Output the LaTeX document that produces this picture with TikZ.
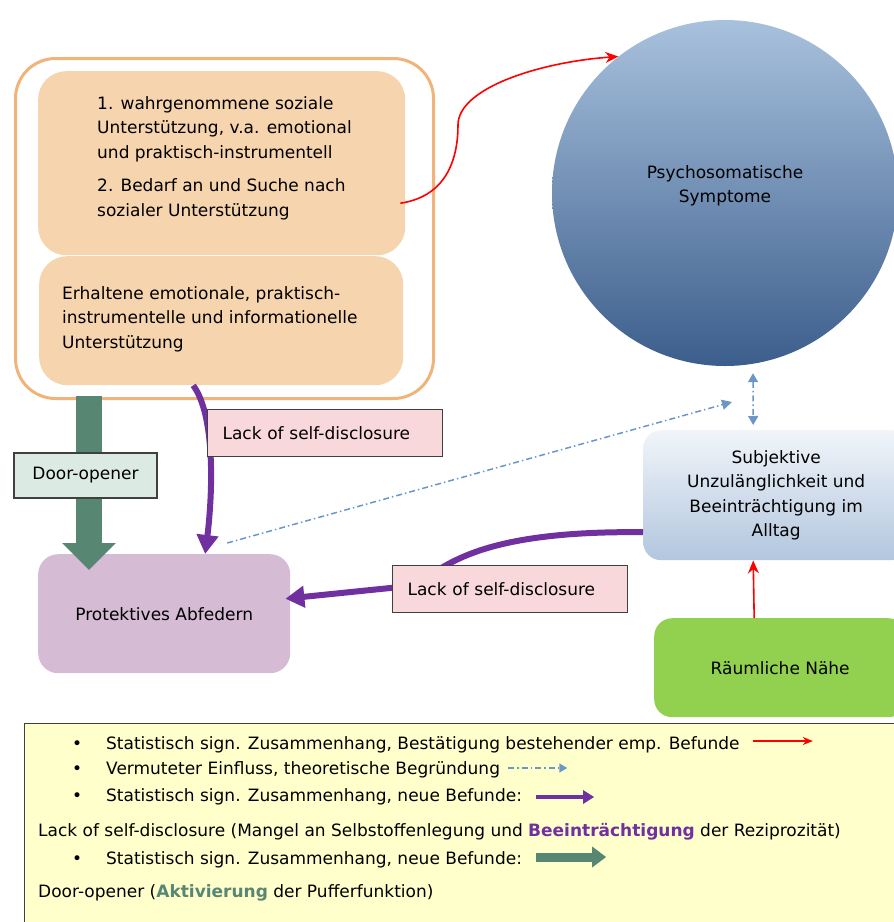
\documentclass[tikz,border=0pt]{standalone}
\usepackage{fontspec}
\setmainfont{DejaVu Sans}
\usepackage{tikz}
\usetikzlibrary{arrows.meta, positioning, shapes.geometric}

\definecolor{peach}{HTML}{F6D4AE}
\definecolor{frameorange}{HTML}{F0B47A}
\definecolor{circletop}{HTML}{A8C1DD}
\definecolor{circlebottom}{HTML}{3C5E8C}
\definecolor{boxtop}{HTML}{F1F5FA}
\definecolor{boxbottom}{HTML}{B2C6DE}
\definecolor{leafgreen}{HTML}{92D050}
\definecolor{lilac}{HTML}{D5BBD3}
\definecolor{rosy}{HTML}{F8D8DA}
\definecolor{mint}{HTML}{DCEAE4}
\definecolor{doorgreen}{HTML}{578673}
\definecolor{lackpurple}{HTML}{7030A0}
\definecolor{hintblue}{HTML}{6A96C8}
\definecolor{paleyellow}{HTML}{FFFFCC}
\definecolor{edgegray}{HTML}{404040}

\begin{document}
\begin{tikzpicture}[
    x=1pt, y=-1pt,
    every node/.style={font=\fontsize{17}{24.5}\selectfont},
    % Define styles
    framebox/.style={rectangle, draw=frameorange, line width=3pt, rounded corners=40pt, inner sep=0pt, anchor=north west},
    supportbox/.style={rectangle, fill=peach, rounded corners=28pt, inner sep=0pt, anchor=north west},
    textblock/.style={align=left, inner sep=0pt},
    symptom/.style={circle, top color=circletop, bottom color=circlebottom, minimum size=346pt, inner sep=0pt, align=center, text depth=18pt},
    strain/.style={rectangle, top color=boxtop, bottom color=boxbottom, rounded corners=18pt, align=center, anchor=north west},
    proximity/.style={rectangle, fill=leafgreen, rounded corners=18pt, anchor=north west},
    buffer/.style={rectangle, fill=lilac, rounded corners=20pt, anchor=north west},
    lacklabel/.style={rectangle, draw=edgegray, line width=1.2pt, fill=rosy, text width=205pt, align=left, inner xsep=15pt, minimum height=47pt, anchor=north west},
    doorlabel/.style={rectangle, draw=edgegray, line width=1.2pt, fill=mint, minimum width=143pt, minimum height=45pt},
    legendbox/.style={rectangle, draw=edgegray, line width=1.2pt, fill=paleyellow, anchor=north west},
    legendline/.style={anchor=west, inner sep=0pt, text height=13pt, text depth=4pt},
    fact/.style={red, line width=1.6pt, -{Stealth[length=13pt, width=11pt]}},
    hint/.style={hintblue, line width=1.5pt, dash pattern=on 6pt off 3pt on 1.5pt off 3pt},
    lack/.style={lackpurple, line width=6pt, -{Triangle[length=19pt, width=21pt]}},
    door/.style={doorgreen, line width=26pt, -{Triangle[length=27pt, width=52pt]}}
]

\useasboundingbox (0,0) rectangle (894,922);
\clip (0,0) rectangle (894,922);

% Social support
\node[framebox, minimum width=418pt, minimum height=340pt] (support_frame) at (14,57) {};
\node[supportbox, minimum width=367pt, minimum height=184pt] (perceived) at (38,71) {};
\node[supportbox, minimum width=364pt, minimum height=129pt] (received) at (39,256) {};
\node[textblock, anchor=north west] (perceived_text) at (97,96) {1. wahrgenommene soziale\\Unterstützung, v.a. emotional\\und praktisch-instrumentell\\[9pt]2. Bedarf an und Suche nach\\sozialer Unterstützung};
\node[textblock, anchor=west] (received_text) at (62,319) {Erhaltene emotionale, praktisch-\\instrumentelle und informationelle\\Unterstützung};

% Outcomes
\node[symptom] (psycho) at (725,193) {Psychosomatische\\Symptome};
\node[strain, minimum width=266pt, minimum height=130pt] (subjective) at (643,430) {Subjektive\\Unzulänglichkeit und\\Beeinträchtigung im\\Alltag};
\node[proximity, minimum width=252pt, minimum height=99pt] (spatial) at (654,618) {Räumliche Nähe};
\node[buffer, minimum width=252pt, minimum height=119pt] (protective) at (38,554) {Protektives Abfedern};

% Connections
\coordinate (hint_end) at (732,402);
\draw[fact] ([xshift=-5pt,yshift=-40pt]perceived.east) .. controls (449,196) and (458,155) .. (458,125) .. controls (458,88) and (540,62) .. (psycho.128);
\draw[fact] ([xshift=-26pt]spatial.north) -- ([xshift=-23pt]subjective.south);
\draw[hint, {Triangle[length=9pt, width=10pt]}-{Triangle[length=9pt, width=10pt]}] ([xshift=28pt,yshift=-7pt]psycho.south) -- ([xshift=-23pt,yshift=5pt]subjective.north);
\draw[hint, -{Triangle[length=10pt, width=10pt]}] ([xshift=63pt,yshift=11pt]protective.north) -- (hint_end);
\draw[door] ([xshift=75pt,yshift=4pt]support_frame.south west) -- ([xshift=51pt,yshift=-16pt]protective.north west);
\draw[lack] ([xshift=-28pt]received.south) .. controls (215,415) and (213,490) .. ([xshift=41pt]protective.north);
\draw[lack] ([yshift=-37pt]subjective.west) .. controls (440,530) and (440,585) .. (400,587) -- ([xshift=-5pt,yshift=15pt]protective.east);

% Labels on the connections
\node[doorlabel] (door_label) at (85.5,475.5) {Door-opener};
\node[lacklabel] (lack_upper) at (207,409) {Lack of self-disclosure};
\node[lacklabel] (lack_lower) at (392,565) {Lack of self-disclosure};

% Legend
\node[legendbox, minimum width=880pt, minimum height=205pt] (legend) at (24,723) {};
\node[legendline] (leg_fact) at (72,745) {\makebox[34pt][l]{\textbullet}Statistisch sign. Zusammenhang, Bestätigung bestehender emp. Befunde};
\node[legendline] (leg_hint) at (72,770) {\makebox[34pt][l]{\textbullet}Vermuteter Einfluss, theoretische Begründung};
\node[legendline] (leg_lack) at (72,797) {\makebox[34pt][l]{\textbullet}Statistisch sign. Zusammenhang, neue Befunde:};
\node[legendline] (leg_lack_text) at (38,832) {Lack of self-disclosure (Mangel an Selbstoffenlegung und \textcolor{lackpurple}{\textbf{Beeinträchtigung}} der Reziprozität)};
\node[legendline] (leg_door) at (72,860) {\makebox[34pt][l]{\textbullet}Statistisch sign. Zusammenhang, neue Befunde:};
\node[legendline] (leg_door_text) at (38,893) {Door-opener (\textcolor{doorgreen}{\textbf{Aktivierung}} der Pufferfunktion)};

\draw[fact, -{Stealth[length=10pt, width=8pt]}] ([xshift=13pt,yshift=4pt]leg_fact.east) -- ++(60,0);
\draw[hint, -{Triangle[length=8pt, width=9pt]}] ([xshift=8pt,yshift=2pt]leg_hint.east) -- ++(59,0);
\draw[lack, line width=4pt, -{Triangle[length=11pt, width=13pt]}] ([xshift=14pt]leg_lack.east) -- ++(58,0);
\draw[door, line width=9pt, -{Triangle[length=14pt, width=20pt]}] ([xshift=14pt,yshift=3pt]leg_door.east) -- ++(70,0);

\end{tikzpicture}
\end{document}
